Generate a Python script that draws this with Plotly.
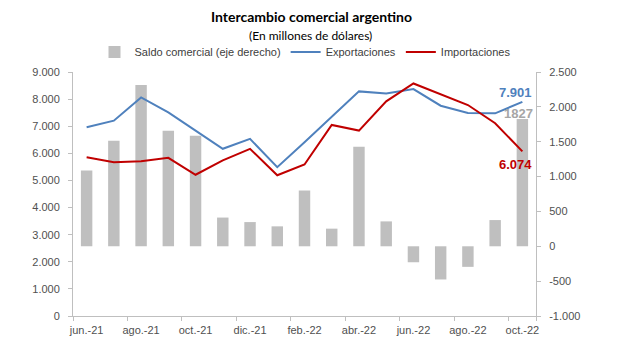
import plotly.graph_objects as go

months = ["jun.-21", "jul.-21", "ago.-21", "sep.-21", "oct.-21", "nov.-21", "dic.-21",
          "ene.-22", "feb.-22", "mar.-22", "abr.-22", "may.-22", "jun.-22", "jul.-22",
          "ago.-22", "sep.-22", "oct.-22"]
saldo = [1086, 1514, 2314, 1657, 1586, 412, 347, 286, 800, 253, 1429, 357,
         -229, -476, -295, 376, 1827]
exportaciones = [6960, 7206, 8063, 7511, 6840, 6168, 6533, 5490, 6410, 7330, 8285, 8210,
                 8370, 7757, 7489, 7475, 7901]
importaciones = [5856, 5673, 5710, 5834, 5210, 5740, 6165, 5190, 5590, 7047, 6840, 7916,
                 8577, 8186, 7782, 7108, 6074]
tick_months = months[::2]
left_ticks = [0, 1000, 2000, 3000, 4000, 5000, 6000, 7000, 8000, 9000]
right_ticks = [-1000, -500, 0, 500, 1000, 1500, 2000, 2500]


def fmt(v):
    return f"{v:,}".replace(",", ".")


BLUE = "#4F81BD"
RED = "#C00000"
GRAY = "#BFBFBF"
AX = "#BFBFBF"
TXT = "#505050"

H = 362
plot_top = 72
plot_bot = 316
ph = plot_bot - plot_top
PL, PR = 73, 536


def py(pix):
    return (plot_bot - pix) / ph


def px(pix):
    return (pix - PL) / (PR - PL)


fig = go.Figure()
fig.add_trace(go.Bar(x=months, y=saldo, name="Saldo comercial (eje derecho)",
                     marker=dict(color=GRAY, line=dict(width=0)), width=0.42, yaxis="y"))
fig.add_trace(go.Scatter(x=months, y=exportaciones, name="Exportaciones", mode="lines",
                         line=dict(color=BLUE, width=2), yaxis="y2"))
fig.add_trace(go.Scatter(x=months, y=importaciones, name="Importaciones", mode="lines",
                         line=dict(color=RED, width=2), yaxis="y2"))

fig.add_annotation(x=months[-1], y=exportaciones[-1], xref="x", yref="y2",
                   text=f"<b>{fmt(exportaciones[-1])}</b>", showarrow=False,
                   xshift=-7, yshift=9, font=dict(color=BLUE, size=13, family="Liberation Sans"))
fig.add_annotation(x=months[-1], y=saldo[-1], xref="x", yref="y",
                   text=f"<b>{saldo[-1]}</b>", showarrow=False,
                   xshift=-4, yshift=5, font=dict(color="#A6A6A6", size=13, family="Liberation Sans"))
fig.add_annotation(x=months[-1], y=importaciones[-1], xref="x", yref="y2",
                   text=f"<b>{fmt(importaciones[-1])}</b>", showarrow=False,
                   xshift=-7, yshift=-13, font=dict(color=RED, size=13, family="Liberation Sans"))

fig.add_annotation(x=px(311), y=py(17), xref="paper", yref="paper",
                   text="<b>Intercambio comercial argentino</b>", showarrow=False,
                   xanchor="center", yanchor="middle",
                   font=dict(family="Lato", size=14, color="#000000"))
fig.add_annotation(x=px(310), y=py(35), xref="paper", yref="paper",
                   text="(En millones de dólares)", showarrow=False,
                   xanchor="center", yanchor="middle",
                   font=dict(family="Lato", size=12, color="#000000"))

fig.update_layout(
    width=617, height=362,
    margin=dict(l=PL, r=617 - PR, t=plot_top, b=H - plot_bot, pad=0),
    paper_bgcolor="white", plot_bgcolor="white",
    separators=",.",
    showlegend=True,
    legend=dict(orientation="h", x=px(305), xanchor="center", y=py(52), yanchor="middle",
                font=dict(family="Liberation Sans", size=11, color="#404040"),
                itemwidth=30, bgcolor="rgba(0,0,0,0)", traceorder="normal"),
    font=dict(family="Liberation Sans", size=11, color=TXT),
    xaxis=dict(type="category", tickmode="array", tickvals=tick_months, ticktext=tick_months,
               tickson="boundaries", ticks="outside", ticklen=4, tickcolor=AX, tickangle=0,
               showline=True, linecolor=AX, linewidth=1, showgrid=False, ticklabelstandoff=4,
               tickfont=dict(size=11, color=TXT), range=[-0.5, len(months) - 0.5]),
    yaxis=dict(side="right", range=[-1000, 2500], tickmode="array", tickvals=right_ticks,
               ticktext=[fmt(v) for v in right_ticks], ticks="outside", ticklen=4, tickcolor=AX,
               showline=True, linecolor=AX, linewidth=1, showgrid=False, zeroline=False,
               tickfont=dict(size=11, color=TXT), ticklabelstandoff=6),
    yaxis2=dict(side="left", overlaying="y", range=[0, 9000], tickmode="array", tickvals=left_ticks,
                ticktext=[fmt(v) for v in left_ticks], ticks="outside", ticklen=4, tickcolor=AX,
                showline=True, linecolor=AX, linewidth=1, showgrid=False, zeroline=False,
                tickfont=dict(size=11, color=TXT), ticklabelstandoff=6),
)

fig.write_html("out.html", config={"displayModeBar": False},
               post_script="document.body.style.margin='0';")
